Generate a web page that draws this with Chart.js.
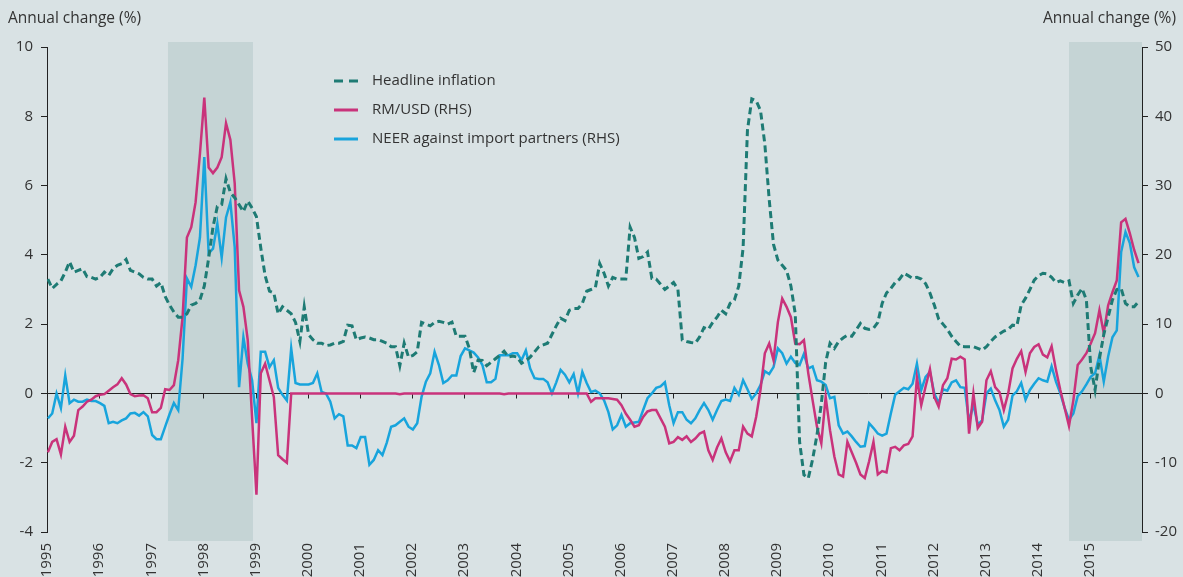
<!DOCTYPE html>
<html>
<head>
<meta charset="utf-8">
<script src="https://cdn.jsdelivr.net/npm/chart.js@4.4.0/dist/chart.umd.min.js"></script>
<style>
  html, body { margin: 0; padding: 0; background: #d9e2e4; }
  canvas { display: block; }
</style>
</head>
<body>
<canvas id="chart" width="1183" height="577"></canvas>
<script>
// monthly series, Jan 1995 - Dec 2015
const START_YEAR = 1995;
const END_YEAR = 2016;

// Headline inflation, annual change (%), left axis
const inflation = [
  3.3, 3.03, 3.15, 3.25, 3.5, 3.8, 3.5, 3.55, 3.6, 3.37, 3.35, 3.3,
  3.35, 3.5, 3.4, 3.6, 3.7, 3.75, 3.87, 3.55, 3.5, 3.45, 3.35, 3.3,
  3.3, 3.1, 3.2, 2.8, 2.55, 2.35, 2.2, 2.2, 2.3, 2.55, 2.6, 2.7,
  3.1, 3.9, 4.8, 5.4, 5.45, 6.2, 5.8, 5.65, 5.45, 5.25, 5.55, 5.35,
  5.1, 4.2, 3.4, 2.95, 2.9, 2.3, 2.5, 2.4, 2.3, 2.05, 1.5, 2.5,
  1.7, 1.55, 1.45, 1.45, 1.38, 1.4, 1.45, 1.45, 1.5, 1.97, 1.95, 1.55,
  1.6, 1.63, 1.6, 1.55, 1.55, 1.5, 1.45, 1.35, 1.35, 0.8, 1.45, 1.05,
  1.1, 1.2, 2.05, 2.0, 1.95, 2.05, 2.08, 2.05, 2.0, 2.06, 1.65, 1.65,
  1.65, 1.3, 0.6, 0.96, 0.95, 0.8, 0.9, 1.0, 1.1, 1.22, 1.05, 1.08,
  1.05, 0.87, 0.95, 1.05, 1.2, 1.35, 1.4, 1.45, 1.7, 1.95, 2.17, 2.1,
  2.4, 2.45, 2.45, 2.6, 2.95, 3.0, 3.05, 3.75, 3.47, 3.1, 3.35, 3.3,
  3.3, 3.3, 4.8, 4.5, 3.9, 3.95, 4.08, 3.32, 3.3, 3.15, 3.0, 3.1,
  3.2, 3.0, 1.54, 1.5, 1.47, 1.45, 1.63, 1.9, 1.85, 2.05, 2.2, 2.4,
  2.3, 2.6, 2.7, 3.1, 4.2, 7.6, 8.5, 8.45, 8.17, 7.2, 5.6, 4.3,
  3.85, 3.7, 3.55, 3.1, 2.3, -1.4, -2.35, -2.45, -1.9, -1.2, -0.3, 0.9,
  1.45, 1.3, 1.5, 1.6, 1.68, 1.65, 1.83, 2.02, 1.88, 1.85, 1.88, 2.05,
  2.6, 2.9, 3.03, 3.2, 3.3, 3.47, 3.4, 3.32, 3.35, 3.3, 3.17, 2.9,
  2.55, 2.15, 2.0, 1.85, 1.65, 1.5, 1.36, 1.35, 1.35, 1.35, 1.3, 1.25,
  1.35, 1.5, 1.63, 1.72, 1.8, 1.85, 1.97, 1.95, 2.55, 2.75, 3.0, 3.27,
  3.4, 3.47, 3.45, 3.35, 3.2, 3.25, 3.2, 3.25, 2.6, 2.84, 3.03, 2.7,
  0.77, 0.1, 1.0, 1.7, 2.2, 2.7, 3.0, 3.03, 2.6, 2.5, 2.5, 2.65
];

// RM/USD, annual change (%), right axis
const rmUsd = [
  -8.5, -7.0, -6.6, -8.8, -4.8, -7.0, -6.1, -2.4, -1.9, -1.2, -0.9, -0.4,
  -0.2, -0.1, 0.4, 0.9, 1.3, 2.2, 1.3, -0.1, -0.4, -0.3, -0.25, -0.7,
  -2.7, -2.7, -2.1, 0.6, 0.5, 1.2, 4.8, 11.0, 22.5, 24.0, 27.6, 34.6,
  42.7, 32.6, 31.8, 32.6, 34.1, 39.0, 36.6, 30.3, 14.9, 12.5, 7.7, -3.5,
  -14.6, 2.9, 4.3, 1.9, -0.5, -8.9, -9.5, -10.0, 0, 0, 0, 0,
  0, 0, 0, 0, 0, 0, 0, 0, 0, 0, 0, 0,
  0, 0, 0, 0, 0, 0, 0, 0, 0, -0.1, 0, 0,
  0, 0, 0, 0, 0, 0, 0, 0, 0, 0, 0, 0,
  0, 0, 0, 0, 0, 0, 0, 0, 0, -0.1, 0, 0,
  0, 0, 0, 0, 0, 0, 0, 0, 0, 0, 0, 0,
  0, 0, 0, 0, 0, -1.2, -0.7, -0.7, -0.7, -0.7, -0.8, -0.9,
  -1.7, -2.9, -3.8, -4.8, -4.6, -3.4, -2.6, -2.4, -2.4, -3.6, -4.8, -7.2,
  -7.0, -6.3, -6.7, -6.2, -7.0, -6.5, -5.8, -5.5, -8.2, -9.6, -7.8, -6.5,
  -8.5, -9.8, -8.2, -8.2, -4.8, -5.8, -6.2, -3.4, 0.5, 5.8, 7.2, 4.8,
  10.3, 13.7, 12.5, 11.0, 7.2, 7.1, 7.7, 2.9, -1.0, -4.8, -7.2, -0.5,
  -5.3, -9.1, -11.7, -12.0, -7.0, -8.5, -10.0, -11.7, -12.2, -9.8, -7.0, -11.7,
  -11.2, -11.4, -7.9, -7.7, -8.2, -7.5, -7.3, -6.2, 2.3, -1.7, 1.0, 3.5,
  -0.5, -1.9, 1.2, 2.2, 5.0, 4.9, 5.3, 4.9, -5.8, 0, -5.0, -4.1,
  1.9, 3.2, 0.9, 0.2, -2.4, 0, 3.6, 5.0, 6.1, 3.1, 5.8, 6.7,
  7.1, 5.6, 5.2, 6.8, 3.4, 0.5, -2.1, -4.7, -1.0, 4.1, 4.9, 5.8,
  7.2, 8.7, 12.0, 8.7, 12.7, 14.6, 16.3, 24.7, 25.2, 23.1, 20.7, 18.8
];

// NEER against import partners, annual change (%), right axis
const neer = [
  -3.6, -2.9, 0, -2.1, 2.6, -1.4, -0.9, -1.2, -1.2, -0.9, -1.1, -1.1,
  -1.4, -1.8, -4.3, -4.1, -4.3, -3.9, -3.6, -2.9, -2.8, -3.2, -2.7, -3.3,
  -6.0, -6.6, -6.6, -4.8, -3.0, -1.4, -2.4, 5.0, 16.6, 15.4, 18.5, 22.5,
  34.1, 20.2, 20.9, 24.5, 19.6, 25.4, 27.6, 21.1, 0.9, 8.1, 4.3, 1.9,
  -4.3, 6.0, 6.0, 3.8, 4.8, 0.8, -0.2, -1.0, 6.5, 1.5, 1.3, 1.3,
  1.3, 1.5, 2.9, 0.2, 0, -1.2, -3.6, -3.0, -3.3, -7.5, -7.5, -7.9,
  -6.3, -6.3, -10.3, -9.6, -8.2, -8.9, -7.1, -4.8, -4.6, -4.1, -3.6, -4.8,
  -5.2, -4.3, -0.5, 1.7, 2.9, 6.0, 4.1, 1.5, 1.9, 2.6, 2.6, 5.4,
  6.5, 6.2, 5.9, 5.2, 4.1, 1.6, 1.6, 2.1, 5.5, 5.5, 5.5, 5.8,
  5.8, 4.8, 6.2, 3.6, 2.2, 2.1, 2.1, 1.6, 0, 1.6, 3.4, 2.7,
  1.6, 2.8, 0, 3.1, 1.5, 0.2, 0.4, 0, -1.0, -2.7, -5.2, -4.6,
  -3.1, -4.8, -4.3, -4.2, -4.1, -2.4, -0.7, 0, 0.8, 1.0, 1.6, -1.7,
  -4.3, -2.7, -2.7, -3.8, -4.3, -3.6, -2.4, -1.4, -2.4, -3.8, -2.4, -1.1,
  -0.9, -1.1, 0.8, -0.2, 1.9, 0.6, -0.8, 0, 1.2, 3.2, 2.8, 3.8,
  6.5, 5.8, 4.3, 5.3, 4.4, 4.1, 5.7, 3.6, 3.9, 1.9, 1.7, 1.2,
  -0.7, -0.5, -4.6, -5.8, -5.5, -6.2, -7.0, -7.7, -7.6, -4.3, -5.0, -5.8,
  -6.1, -5.8, -2.9, -0.2, 0.3, 0.8, 0.6, 1.4, 4.3, 0.5, 2.4, 3.1,
  0, -1.4, 0.6, 0.4, 1.6, 1.9, 0.9, 0.8, -4.1, -1.6, -4.5, -3.9,
  0, 0.7, -1.0, -2.4, -4.8, -3.8, -0.3, 0.3, 1.5, -0.9, 0.5, 1.4,
  2.2, 1.9, 1.7, 3.9, 1.7, 0, -2.1, -3.8, -2.9, -0.4, 0.3, 1.3,
  2.4, 2.9, 5.5, 1.7, 5.3, 8.1, 9.1, 20.4, 23.3, 21.7, 18.2, 16.8
];

const seriesLabels = ['Headline inflation', 'RM/USD (RHS)', 'NEER against import partners (RHS)'];
const shadedPeriods = [[1997.32, 1998.95], [2014.6, 2016]];
const axisTitle = 'Annual change (%)';

const COLORS = {
  bg: '#d9e2e4',
  shade: '#c5d4d5',
  text: '#333333',
  axis: '#222222',
  inflation: '#1e7b74',
  rm: '#c9337b',
  neer: '#18a4dc'
};
const FONT = '"Open Sans", "Noto Sans", sans-serif';

const toPoints = arr => arr.map((v, i) => ({ x: START_YEAR + (i + 0.2) / 12, y: v }));

const decorations = {
    id: 'decorations',
    beforeDraw(chart) {
        const { ctx, width, height, chartArea, scales: { x } } = chart;
        ctx.save();
        ctx.fillStyle = COLORS.bg;
        ctx.fillRect(0, 0, width, height);
        ctx.fillStyle = COLORS.shade;
        shadedPeriods.forEach(([a, b]) => {
            const x0 = x.getPixelForValue(a);
            const x1 = x.getPixelForValue(b);
            ctx.fillRect(x0, chartArea.top - 5, x1 - x0, chartArea.bottom - chartArea.top + 14);
        });
        ctx.restore();
    },
    beforeDatasetsDraw(chart) {
        const { ctx, chartArea, scales: { x, y } } = chart;
        const y0 = Math.round(y.getPixelForValue(0)) + 0.5;
        ctx.save();
        ctx.strokeStyle = COLORS.axis;
        ctx.lineWidth = 1;
        ctx.beginPath();
        ctx.moveTo(chartArea.left, y0);
        ctx.lineTo(chartArea.right, y0);
        for (let yr = START_YEAR + 1; yr < END_YEAR; yr++) {
            const px = Math.round(x.getPixelForValue(yr)) + 0.5;
            ctx.moveTo(px, y0);
            ctx.lineTo(px, y0 + 5);
        }
        ctx.stroke();
        ctx.restore();
    },
    afterDraw(chart) {
        const { ctx, width } = chart;
        ctx.save();
        ctx.fillStyle = COLORS.text;
        ctx.font = `15.5px ${FONT}`;
        ctx.textBaseline = 'middle';
        ctx.textAlign = 'left';
        ctx.fillText(axisTitle, 8, 19);
        ctx.textAlign = 'right';
        ctx.fillText(axisTitle, width - 7, 19);

        // legend
        const items = [
            { label: seriesLabels[0], color: COLORS.inflation, dash: [9, 6] },
            { label: seriesLabels[1], color: COLORS.rm, dash: [] },
            { label: seriesLabels[2], color: COLORS.neer, dash: [] }
        ];
        ctx.textAlign = 'left';
        ctx.font = `15px ${FONT}`;
        items.forEach((item, k) => {
            const ly = 81 + k * 29;
            ctx.strokeStyle = item.color;
            ctx.lineWidth = 3;
            ctx.setLineDash(item.dash);
            ctx.beginPath();
            ctx.moveTo(334, ly);
            ctx.lineTo(358, ly);
            ctx.stroke();
            ctx.setLineDash([]);
            ctx.fillStyle = COLORS.text;
            ctx.fillText(item.label, 372, ly);
        });
        ctx.restore();
    }
};

new Chart(document.getElementById('chart'), {
    type: 'line',
    data: {
        datasets: [
            {
                label: seriesLabels[0],
                data: toPoints(inflation),
                yAxisID: 'y',
                borderColor: COLORS.inflation,
                borderWidth: 3,
                borderDash: [7, 4],
                borderCapStyle: 'butt'
            },
            {
                label: seriesLabels[1],
                data: toPoints(rmUsd),
                yAxisID: 'y1',
                borderColor: COLORS.rm,
                borderWidth: 2.5
            },
            {
                label: seriesLabels[2],
                data: toPoints(neer),
                yAxisID: 'y1',
                borderColor: COLORS.neer,
                borderWidth: 2.5
            }
        ]
    },
    options: {
        responsive: false,
        animation: false,
        devicePixelRatio: 1,
        elements: { point: { radius: 0 }, line: { tension: 0 } },
        layout: { padding: { top: 47, left: 0, right: 0, bottom: 0 } },
        plugins: { legend: { display: false }, tooltip: { enabled: false } },
        scales: {
            x: {
                type: 'linear',
                min: START_YEAR,
                max: END_YEAR,
                grid: { display: false, drawTicks: false },
                border: { display: false },
                ticks: {
                    stepSize: 1,
                    autoSkip: false,
                    minRotation: 90,
                    maxRotation: 90,
                    padding: 11,
                    color: COLORS.text,
                    font: { family: FONT, size: 15 },
                    callback: v => (v < END_YEAR ? String(v) : '')
                },
                afterFit: scale => { scale.height = 45; }
            },
            y: {
                position: 'left',
                min: -4,
                max: 10,
                grid: { drawOnChartArea: false, drawTicks: true, tickLength: 6, color: COLORS.axis },
                border: { display: true, color: COLORS.axis, width: 1 },
                ticks: { stepSize: 2, padding: 8, color: COLORS.text, font: { family: FONT, size: 15 } },
                afterFit: scale => { scale.width = 47; }
            },
            y1: {
                position: 'right',
                min: -20,
                max: 50,
                grid: { drawOnChartArea: false, drawTicks: true, tickLength: 6, color: COLORS.axis },
                border: { display: true, color: COLORS.axis, width: 1 },
                ticks: { stepSize: 10, padding: 7, color: COLORS.text, font: { family: FONT, size: 15 } },
                afterFit: scale => { scale.width = 41; }
            }
        }
    },
    plugins: [decorations]
});
</script>
</body>
</html>
